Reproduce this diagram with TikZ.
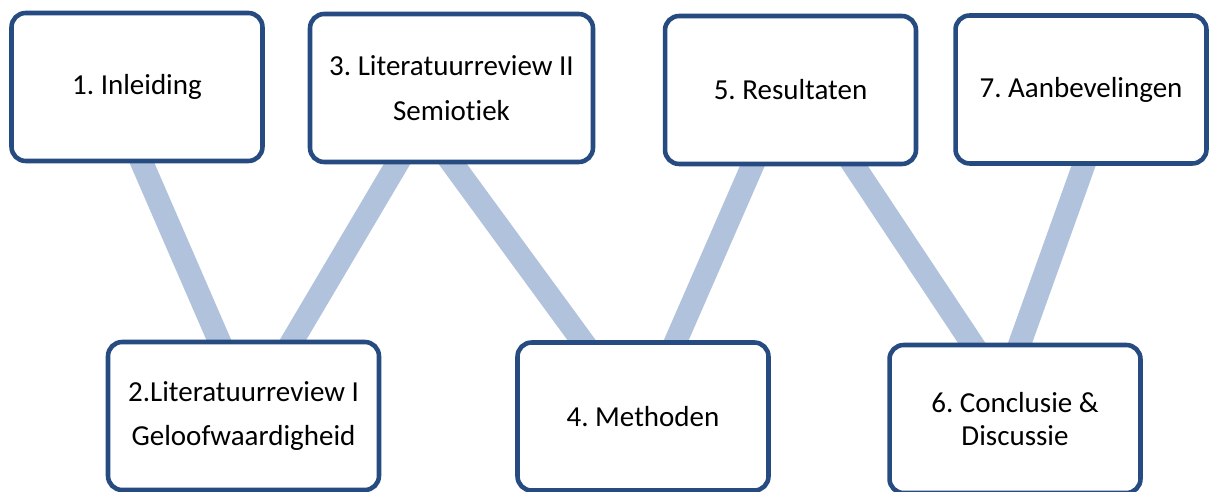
\documentclass[tikz,border=0pt]{standalone}
\usepackage{fontspec}
\setmainfont[Ligatures=NoCommon]{Carlito}
\frenchspacing
\usetikzlibrary{calc, backgrounds}
\definecolor{cnavy}{HTML}{264B80}
\definecolor{clink}{HTML}{B1C2DD}
\tikzset{
  every picture/.style={font=\fontsize{16.5}{18.5}\selectfont},
  box/.style={draw=cnavy, fill=white, line width=2.6pt, rounded corners=8pt, align=center, minimum height=2.96cm, minimum width=#1},
  box/.default=5.02cm,
  link/.style={draw=clink, line width=13pt, shorten <=-6pt, shorten >=-6pt},
}

\begin{document}
\begin{tikzpicture}[x=0.02cm, y=-0.02cm]
  \useasboundingbox (0,0) rectangle (1209,492);
  % top row
  \node[box] (b1) at (137,87) {1. Inleiding};
  \node[box=5.66cm] (b3) at (451.5,88) {3. Literatuurreview II\\[7pt]Semiotiek};
  \node[box] (b5) at (790.5,90) {5. Resultaten};
  \node[box] (b7) at (1081,89.5) {7. Aanbevelingen};
  % bottom row
  \node[box=5.42cm] (b2) at (243.5,416) {2.Literatuurreview I\\[7pt]Geloofwaardigheid};
  \node[box] (b4) at (643,416.5) {4. Methoden};
  \node[box] (b6) at (1015,419) {6. Conclusie \&\\Discussie};
  % links, behind the boxes
  \begin{scope}[on background layer]
    \draw[link] ($(b1.south west)!0.52!(b1.south east)$) -- ($(b2.north west)!0.41!(b2.north east)$);
    \draw[link] ($(b3.south west)!0.31!(b3.south east)$) -- ($(b2.north west)!0.68!(b2.north east)$);
    \draw[link] ($(b3.south west)!0.505!(b3.south east)$) -- ($(b4.north west)!0.26!(b4.north east)$);
    \draw[link] ($(b5.south west)!0.35!(b5.south east)$) -- ($(b4.north west)!0.63!(b4.north east)$);
    \draw[link] ($(b5.south west)!0.75!(b5.south east)$) -- ($(b6.north west)!0.33!(b6.north east)$);
    \draw[link] ($(b7.south west)!0.51!(b7.south east)$) -- ($(b6.north west)!0.52!(b6.north east)$);
  \end{scope}
\end{tikzpicture}
\end{document}
